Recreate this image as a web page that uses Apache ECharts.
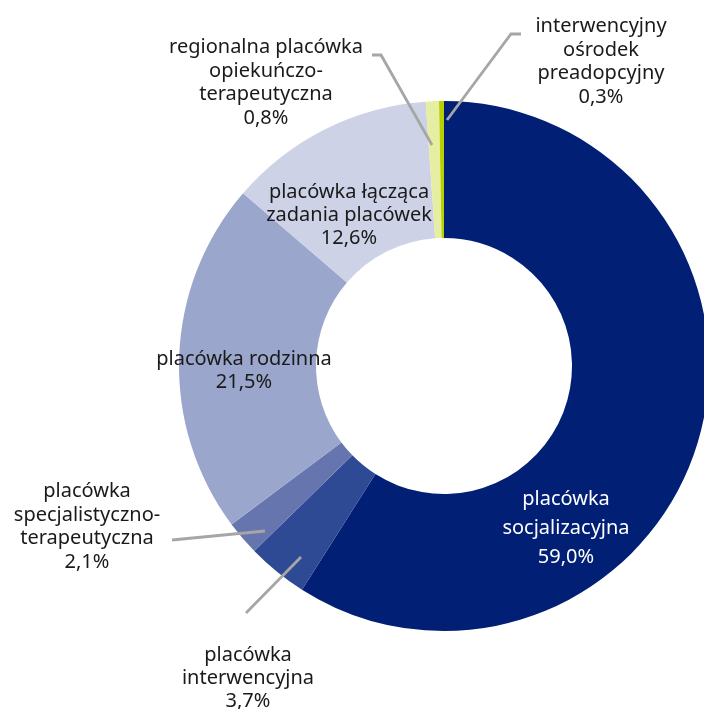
<!DOCTYPE html>
<html><head><meta charset="utf-8">
<script src="https://cdn.jsdelivr.net/npm/echarts@6/dist/echarts.min.js"></script>
<style>html,body{margin:0;padding:0;background:#fff}#c{width:704px;height:709px}</style>
</head><body><div id="c"></div>
<script>
const categories = [
  'placówka\nsocjalizacyjna',
  'placówka\ninterwencyjna',
  'placówka\nspecjalistyczno-\nterapeutyczna',
  'placówka rodzinna',
  'placówka łącząca\nzadania placówek',
  'regionalna placówka\nopiekuńczo-\nterapeutyczna',
  'interwencyjny\nośrodek\npreadopcyjny'
];
const values = [59.0, 3.7, 2.1, 21.5, 12.6, 0.8, 0.3];

const colors = ['#001f75', '#2f4a95', '#6675ad', '#9aa6cb', '#cdd2e6', '#e6eea2', '#b8cf00'];
const textColors = ['#ffffff', '#1a1a1a', '#1a1a1a', '#1a1a1a', '#1a1a1a', '#1a1a1a', '#1a1a1a'];
const lineHeights = [29, 23, 23.5, 23, 23, 23.5, 23.5];
// label placement: center x, center y, optional leader line points
const labelLayouts = [
  { x: 566, y: 528 },
  { x: 248, y: 678, line: [[246, 613], [301, 557]] },
  { x: 87, y: 527, line: [[172, 540], [265, 531]] },
  { x: 244, y: 371 },
  { x: 349, y: 215 },
  { x: 266, y: 83, line: [[372, 55], [381, 55], [432, 145]] },
  { x: 601, y: 62, line: [[521, 34], [511, 34], [447, 120]] }
];

const chart = echarts.init(document.getElementById('c'));
chart.setOption({
  animation: false,
  graphic: labelLayouts.filter(L => L.line).map(L => ({
    type: 'polyline',
    z: 100,
    silent: true,
    shape: { points: L.line },
    style: { stroke: '#a6a6a6', lineWidth: 2.8, fill: null }
  })),
  series: [{
    type: 'pie',
    center: [444, 366],
    radius: [128, 265],
    startAngle: 90,
    clockwise: true,
    avoidLabelOverlap: false,
    itemStyle: { borderWidth: 0 },
    emphasis: { disabled: true },
    label: {
      show: true,
      position: 'outside',
      fontFamily: 'Noto Sans',
      fontSize: 20,
      align: 'center',
      formatter: p => p.name + '\n' + p.value.toFixed(1).replace('.', ',') + '%'
    },
    labelLine: { show: false },
    data: categories.map((n, i) => ({
      name: n,
      value: values[i],
      itemStyle: { color: colors[i] },
      label: { color: textColors[i], lineHeight: lineHeights[i] }
    })),
    labelLayout: function (params) {
      const L = labelLayouts[params.dataIndex];
      return { x: L.x, y: L.y, align: 'center', verticalAlign: 'middle' };
    }
  }]
});
</script>
</body></html>
